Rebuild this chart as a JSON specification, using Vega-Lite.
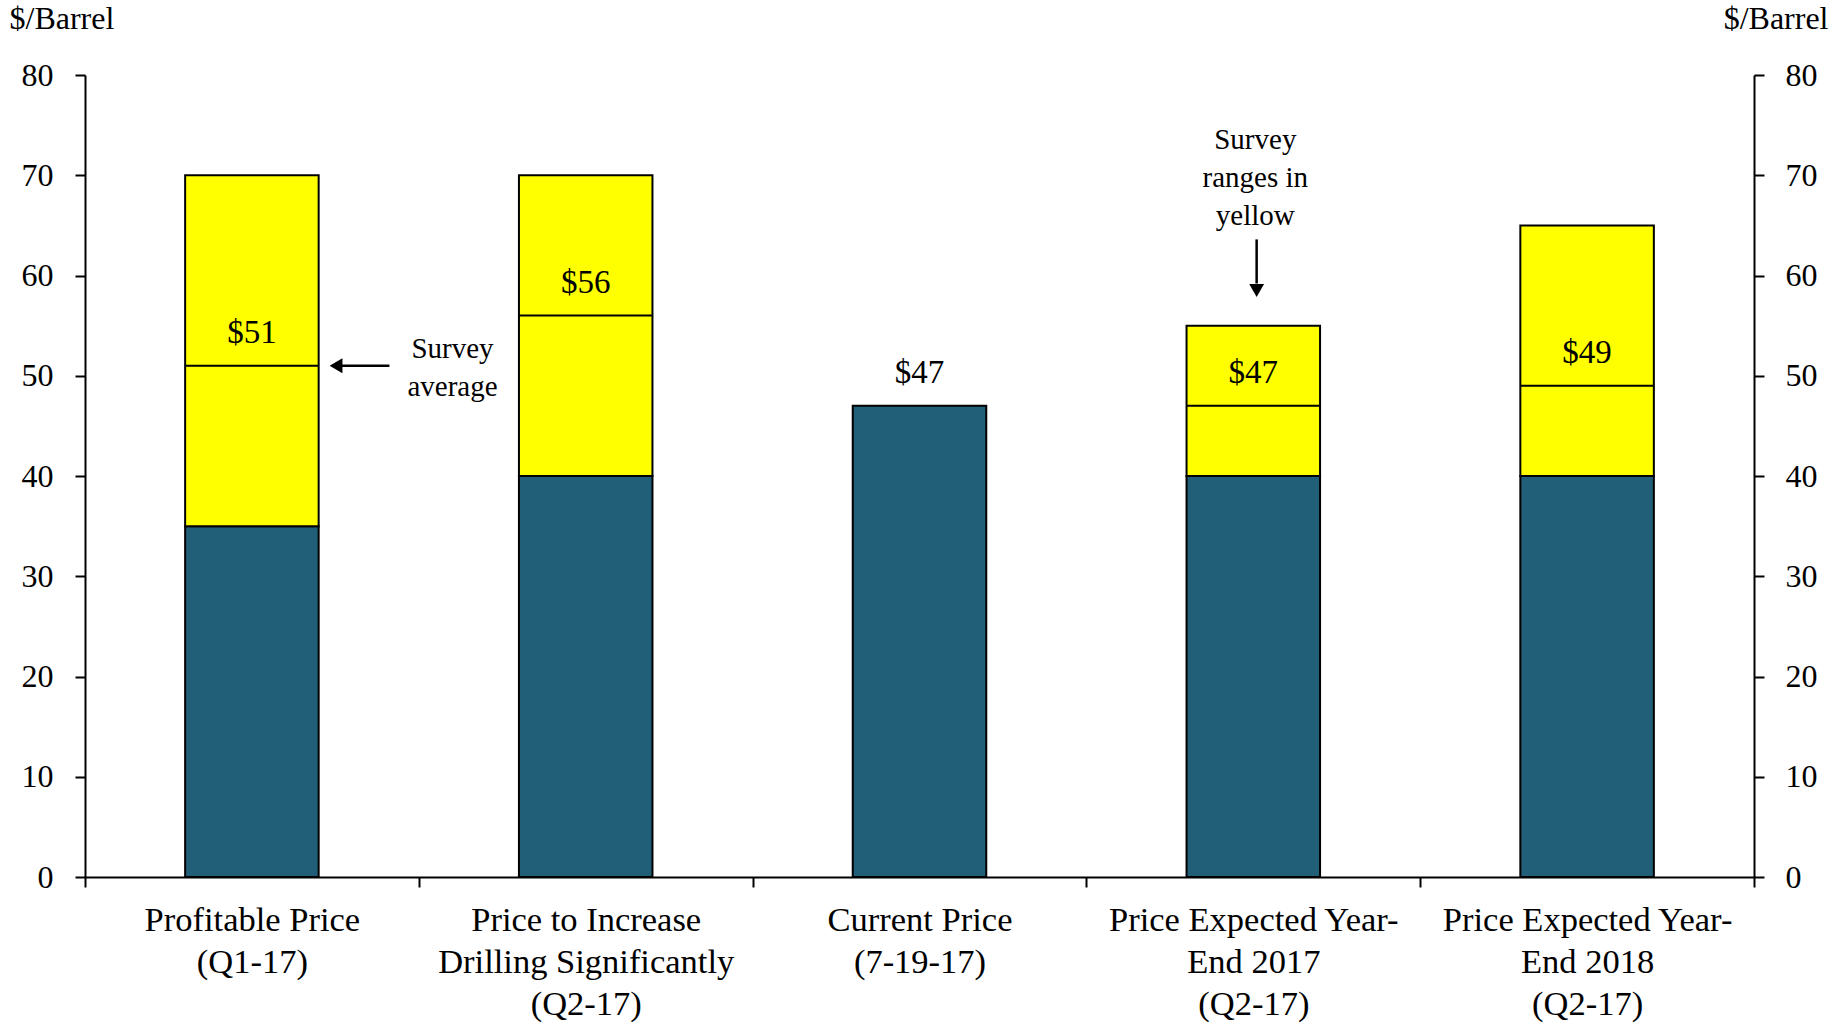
{
  "$schema": "https://vega.github.io/schema/vega-lite/v6.json",
  "width": 1669,
  "height": 802,
  "autosize": {"type": "none"},
  "padding": {"left": 85, "top": 75, "right": 89, "bottom": 147},
  "background": "white",
  "config": {
    "view": {"stroke": null},
    "font": "Liberation Serif",
    "axis": {"labelFont": "Liberation Serif", "titleFont": "Liberation Serif", "labelColor": "black", "titleColor": "black", "domainColor": "black", "tickColor": "black", "grid": false}
  },
  "datasets": {
    "bars": [
      {"cat": "Profitable Price|(Q1-17)", "base": 35, "hi": 70, "avg": 51, "label": 51},
      {"cat": "Price to Increase|Drilling Significantly|(Q2-17)", "base": 40, "hi": 70, "avg": 56, "label": 56},
      {"cat": "Current Price|(7-19-17)", "base": 47, "hi": null, "avg": null, "label": 47},
      {"cat": "Price Expected Year-|End 2017|(Q2-17)", "base": 40, "hi": 55, "avg": 47, "label": 47},
      {"cat": "Price Expected Year-|End 2018|(Q2-17)", "base": 40, "hi": 65, "avg": 49, "label": 49}
    ],
    "notes": [
      {"x": 1.101, "y": 52.7, "text": "Survey\naverage"},
      {"x": 3.506, "y": 73.55, "text": "Survey\nranges in\nyellow"}
    ],
    "shafts": [
      {"x": 0.762, "x2": 0.912, "y": 51, "y2": 51},
      {"x": 3.51, "x2": 3.51, "y": 63.6, "y2": 59.2}
    ],
    "heads": [
      {"x": 0.752, "y": 51, "shape": "triangle-left"},
      {"x": 3.51, "y": 58.5, "shape": "triangle-down"}
    ]
  },
  "resolve": {"scale": {"x": "independent", "y": "independent"}},
  "layer": [
    {
      "data": {"name": "bars"},
      "mark": {"type": "bar", "width": {"band": 0.4}, "fill": "#215e78", "stroke": "black", "strokeWidth": 2},
      "encoding": {
        "x": {
          "field": "cat", "type": "nominal",
          "scale": {"domain": ["Profitable Price|(Q1-17)", "Price to Increase|Drilling Significantly|(Q2-17)", "Current Price|(7-19-17)", "Price Expected Year-|End 2017|(Q2-17)", "Price Expected Year-|End 2018|(Q2-17)"], "paddingInner": 0, "paddingOuter": 0},
          "axis": {"title": null, "labelAngle": 0, "labelExpr": "split(datum.label, '|')", "labelFontSize": 34.5, "labelLineHeight": 42, "labelPadding": 16, "labelLimit": 0, "tickBand": "extent", "tickSize": 10, "tickWidth": 2, "domainWidth": 2, "labelBaseline": "top"}
        },
        "y": {
          "field": "base", "type": "quantitative",
          "scale": {"domain": [0, 80], "nice": false},
          "axis": {"orient": "left", "values": [0, 10, 20, 30, 40, 50, 60, 70, 80], "tickSize": 10, "tickWidth": 2, "domainWidth": 2, "labelFontSize": 32, "labelPadding": 22, "title": "$/Barrel", "titleAngle": 0, "titleAlign": "left", "titleBaseline": "middle", "titleX": -76, "titleY": -57, "titleFontSize": 32, "titleFontWeight": "normal"}
        }
      }
    },
    {
      "data": {"name": "bars"},
      "transform": [{"filter": "datum.hi != null"}],
      "mark": {"type": "bar", "width": {"band": 0.4}, "fill": "#ffff00", "stroke": "black", "strokeWidth": 2},
      "encoding": {
        "x": {"field": "cat", "type": "nominal", "scale": {"domain": ["Profitable Price|(Q1-17)", "Price to Increase|Drilling Significantly|(Q2-17)", "Current Price|(7-19-17)", "Price Expected Year-|End 2017|(Q2-17)", "Price Expected Year-|End 2018|(Q2-17)"], "paddingInner": 0, "paddingOuter": 0}, "axis": null},
        "y": {"field": "base", "type": "quantitative", "scale": {"domain": [0, 80], "nice": false}, "axis": null},
        "y2": {"field": "hi"}
      }
    },
    {
      "data": {"name": "bars"},
      "transform": [{"filter": "datum.avg != null"}],
      "mark": {"type": "bar", "width": {"band": 0.4}, "fillOpacity": 0, "stroke": "black", "strokeWidth": 2},
      "encoding": {
        "x": {"field": "cat", "type": "nominal", "scale": {"domain": ["Profitable Price|(Q1-17)", "Price to Increase|Drilling Significantly|(Q2-17)", "Current Price|(7-19-17)", "Price Expected Year-|End 2017|(Q2-17)", "Price Expected Year-|End 2018|(Q2-17)"], "paddingInner": 0, "paddingOuter": 0}, "axis": null},
        "y": {
          "field": "avg", "type": "quantitative",
          "scale": {"domain": [0, 80], "nice": false},
          "axis": {"orient": "right", "values": [0, 10, 20, 30, 40, 50, 60, 70, 80], "tickSize": 10, "tickWidth": 2, "domainWidth": 2, "labelFontSize": 32, "labelPadding": 21, "title": "$/Barrel", "titleAngle": 0, "titleAlign": "right", "titleBaseline": "middle", "titleX": 74, "titleY": -57, "titleFontSize": 32, "titleFontWeight": "normal"}
        },
        "y2": {"field": "avg"}
      }
    },
    {
      "data": {"name": "bars"},
      "mark": {"type": "text", "fontSize": 33, "baseline": "middle", "align": "center", "dy": -33, "color": "black"},
      "encoding": {
        "x": {"field": "cat", "type": "nominal", "scale": {"domain": ["Profitable Price|(Q1-17)", "Price to Increase|Drilling Significantly|(Q2-17)", "Current Price|(7-19-17)", "Price Expected Year-|End 2017|(Q2-17)", "Price Expected Year-|End 2018|(Q2-17)"], "paddingInner": 0, "paddingOuter": 0}, "axis": null},
        "y": {"field": "label", "type": "quantitative", "scale": {"domain": [0, 80], "nice": false}, "axis": null},
        "text": {"field": "label", "type": "quantitative", "format": "$.0f"}
      }
    },
    {
      "data": {"name": "notes"},
      "mark": {"type": "text", "fontSize": 29, "baseline": "middle", "align": "center", "lineBreak": "\n", "lineHeight": 38, "color": "black"},
      "encoding": {
        "x": {"field": "x", "type": "quantitative", "scale": {"domain": [0, 5], "nice": false, "zero": false}, "axis": null},
        "y": {"field": "y", "type": "quantitative", "scale": {"domain": [0, 80], "nice": false}, "axis": null},
        "text": {"field": "text"}
      }
    },
    {
      "data": {"name": "shafts"},
      "mark": {"type": "rule", "stroke": "black", "strokeWidth": 2.5},
      "encoding": {
        "x": {"field": "x", "type": "quantitative", "scale": {"domain": [0, 5], "nice": false, "zero": false}, "axis": null},
        "x2": {"field": "x2"},
        "y": {"field": "y", "type": "quantitative", "scale": {"domain": [0, 80], "nice": false}, "axis": null},
        "y2": {"field": "y2"}
      }
    },
    {
      "data": {"name": "heads"},
      "mark": {"type": "point", "filled": true, "color": "black", "size": 220, "opacity": 1},
      "encoding": {
        "x": {"field": "x", "type": "quantitative", "scale": {"domain": [0, 5], "nice": false, "zero": false}, "axis": null},
        "y": {"field": "y", "type": "quantitative", "scale": {"domain": [0, 80], "nice": false}, "axis": null},
        "shape": {"field": "shape", "type": "nominal", "scale": null, "legend": null}
      }
    }
  ]
}
